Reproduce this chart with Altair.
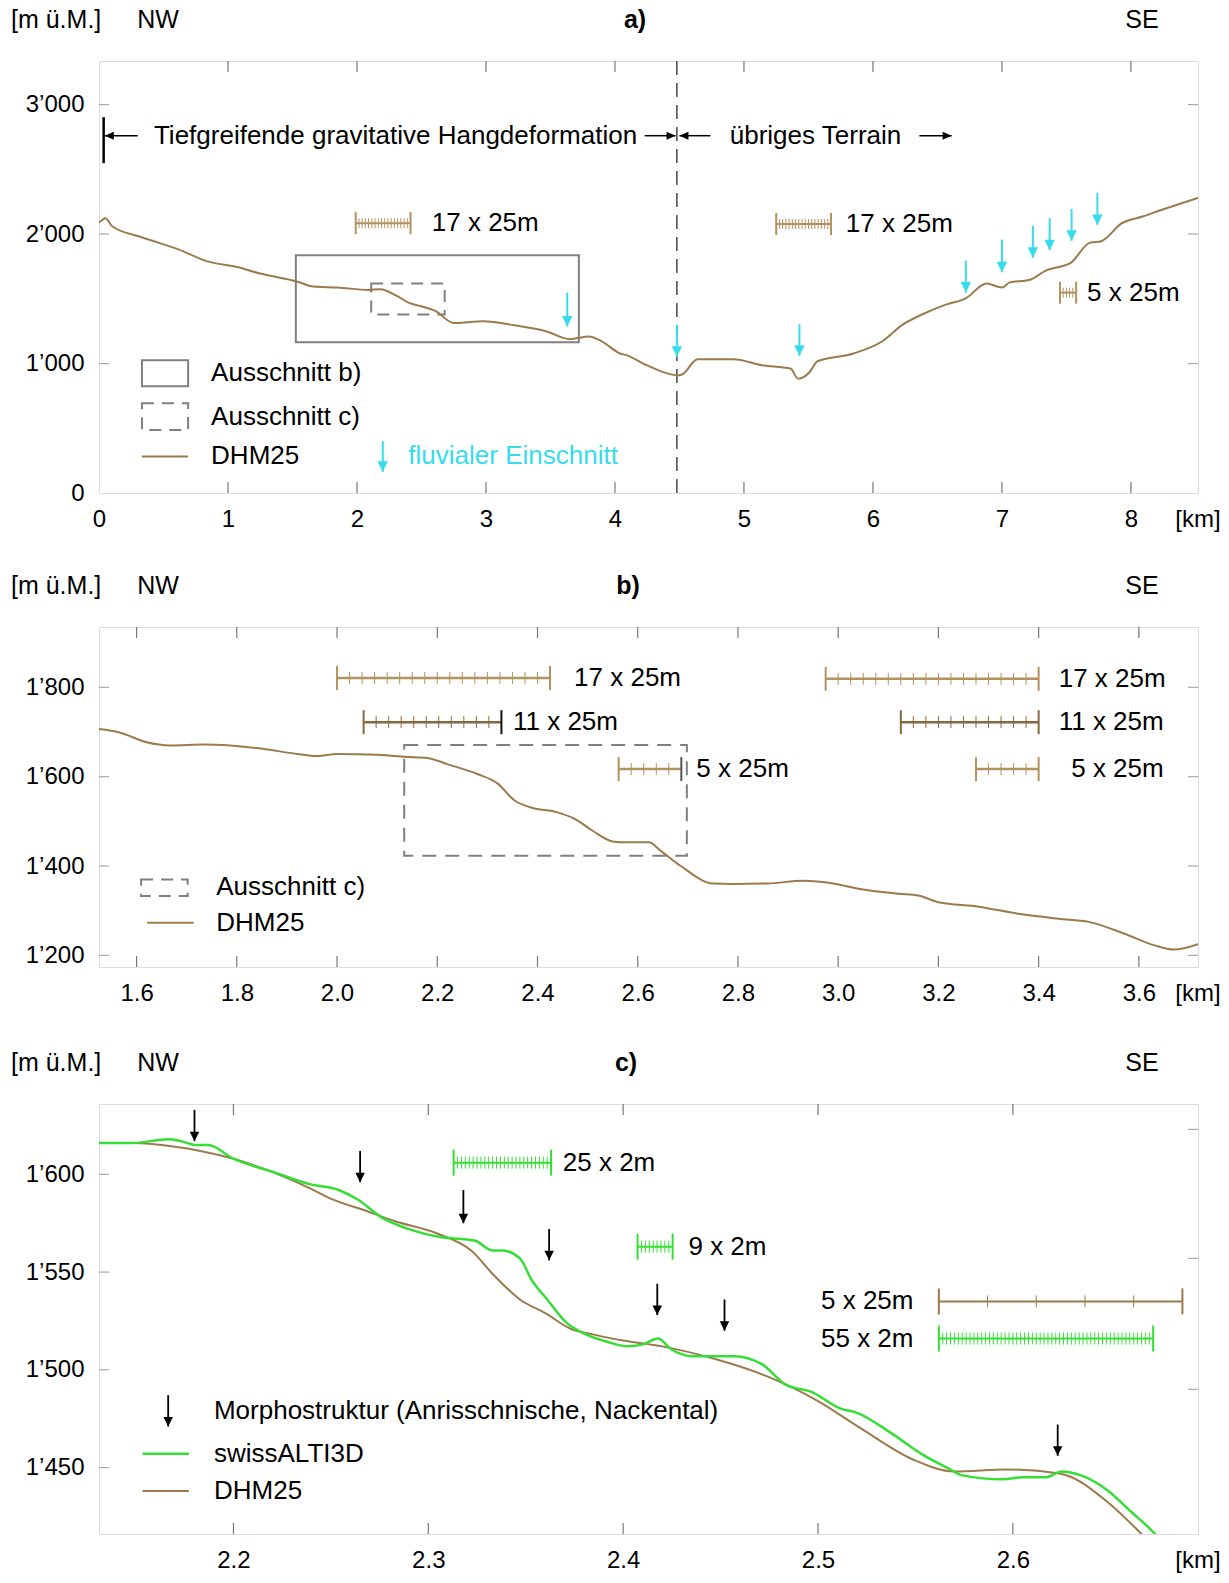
import altair as alt
import pandas as pd

FONT = "Liberation Sans"
BROWN = "#9b7a4d"
TAN = "#b3925f"
DARK = "#86673f"
CYAN = "#36dcec"
GREEN = "#35de35"
FRAME = "#5a5a5a"
W = 1099
HA, HB, HC = 432, 340, 430
FS = 26
LFS = 24

# ---------------- panel a data ----------------
A_DOM_X = [0, 8.52]
A_DOM_Y = [0, 3337]
A_X = [0.0, 0.01, 0.05, 0.1, 0.32, 0.62, 0.84, 1.08, 1.24, 1.54, 1.66, 1.85, 2.09, 2.18, 2.31, 2.4,
       2.49, 2.61, 2.75, 2.98, 3.22, 3.47, 3.65, 3.8, 3.9, 4.04, 4.09, 4.22, 4.5, 4.53, 4.64, 4.92,
       5.14, 5.36, 5.42, 5.51, 5.57, 5.85, 6.07, 6.23, 6.38, 6.57, 6.72, 6.88, 7.0, 7.06, 7.21, 7.34,
       7.53, 7.68, 7.77, 7.93, 8.09, 8.24, 8.52]
A_Y = [2090, 2097, 2123, 2063, 1979, 1880, 1789, 1744, 1697, 1632, 1595, 1587, 1569, 1574, 1522, 1470,
       1444, 1405, 1313, 1326, 1295, 1248, 1188, 1209, 1170, 1078, 1065, 1000, 909, 922, 1034, 1034,
       987, 961, 883, 935, 1018, 1078, 1170, 1300, 1379, 1457, 1504, 1619, 1587, 1627, 1645, 1718,
       1775, 1932, 1945, 2084, 2136, 2188, 2280]
A_XTICKS = [0, 1, 2, 3, 4, 5, 6, 7, 8]
A_YTICKS = [0, 1000, 2000, 3000]
A_FLUV_X = [3.63, 4.48, 5.43, 6.72, 7.0, 7.24, 7.37, 7.54, 7.74, 2.2]
A_FLUV_TOP = [1548, 1300, 1305, 1796, 1958, 2063, 2123, 2193, 2319, 400]
A_FLUV_TIP = [1287, 1052, 1060, 1548, 1705, 1817, 1875, 1948, 2071, 164]
A_HARROW_TAIL = [0.30, 4.23, 4.74, 6.36]
A_HARROW_TIP = [0.045, 4.47, 4.50, 6.61]
A_HARROW_Y = 2760
A_BOUNDARY = 4.48
A_BAR_BLACK = [0.036, 2548, 2903]
A_BOX_B = [1.526, 3.72, 1164, 1836]
A_BOX_C = [2.11, 2.68, 1379, 1619]
A_BARS = [(1.99, 17, 0.025, 2084), (5.25, 17, 0.025, 2078), (7.45, 5, 0.025, 1548)]
A_TEXTS = [("Tiefgreifende gravitative Hangdeformation", 0.426, 2760),
           ("übriges Terrain", 4.89, 2760),
           ("17 x 25m", 2.58, 2084), ("17 x 25m", 5.79, 2078), ("5 x 25m", 7.66, 1548),
           ("Ausschnitt b)", 0.869, 925), ("Ausschnitt c)", 0.869, 590), ("DHM25", 0.869, 282)]
A_LEG_BOX_B = [0.333, 0.691, 825, 1026]
A_LEG_BOX_C = [0.333, 0.691, 486, 694]
A_LEG_LINE = [0.333, 0.691, 282]
A_LEG_FLUV_TEXT = ("fluvialer Einschnitt", 2.398, 282)

# ---------------- panel b data ----------------
B_DOM_X = [1.525, 3.718]
B_DOM_Y = [1174, 1935]
B_X = [1.523, 1.566, 1.62, 1.667, 1.737, 1.84, 1.92, 1.96, 2.0, 2.08, 2.16, 2.18, 2.22, 2.28, 2.32,
       2.355, 2.387, 2.44, 2.475, 2.51, 2.55, 2.574, 2.622, 2.646, 2.686, 2.75, 2.79, 2.86, 2.93,
       2.99, 3.04, 3.12, 3.16, 3.2, 3.28, 3.36, 3.44, 3.5, 3.57, 3.63, 3.67, 3.718]
B_Y = [1707, 1699, 1677, 1670, 1672, 1664, 1651, 1646, 1651, 1649, 1643, 1642, 1628, 1606, 1585,
       1546, 1531, 1520, 1505, 1479, 1455, 1453, 1453, 1434, 1400, 1361, 1360, 1361, 1367,
       1361, 1349, 1338, 1334, 1319, 1309, 1293, 1282, 1275, 1249, 1223, 1213, 1225]
B_XTICKS = [1.6, 1.8, 2.0, 2.2, 2.4, 2.6, 2.8, 3.0, 3.2, 3.4, 3.6]
B_YTICKS = [1200, 1400, 1600, 1800]
B_BOX_C = [2.134, 2.698, 1423, 1671]
# x0, n, unit, y, colour, right-cap colour
B_BARS = [(2.0, 17, 0.025, 1821, TAN, TAN), (2.053, 11, 0.025, 1722, DARK, "#111111"),
          (2.562, 5, 0.025, 1617, TAN, "#555555"), (2.975, 17, 0.025, 1819, TAN, TAN),
          (3.125, 11, 0.025, 1722, DARK, DARK), (3.275, 5, 0.025, 1617, TAN, TAN)]
B_TEXTS = [("17 x 25m", 2.473, 1821), ("11 x 25m", 2.351, 1722), ("5 x 25m", 2.717, 1617),
           ("17 x 25m", 3.44, 1819), ("11 x 25m", 3.44, 1722), ("5 x 25m", 3.465, 1617),
           ("Ausschnitt c)", 1.759, 1352), ("DHM25", 1.759, 1273)]
B_LEG_BOX_C = [1.609, 1.702, 1333, 1370]
B_LEG_LINE = [1.621, 1.714, 1273]

# ---------------- panel c data ----------------
C_DOM_X = [2.131, 2.695]
C_DOM_Y = [1416, 1636]
C_DX = [2.131, 2.148, 2.171, 2.183, 2.2, 2.223, 2.239, 2.249, 2.269, 2.283, 2.304, 2.322, 2.334,
        2.347, 2.36, 2.373, 2.385, 2.4, 2.42, 2.449, 2.473, 2.5, 2.522, 2.549, 2.57, 2.597, 2.624,
        2.649, 2.665, 2.672]
C_DY = [1616, 1616, 1614, 1612, 1608, 1600, 1593, 1588, 1581, 1576, 1570, 1561, 1548, 1536, 1529,
        1521, 1518, 1515, 1512, 1505, 1497, 1484, 1470, 1454, 1448, 1449, 1447, 1432, 1417, 1410]
C_SX = [2.131, 2.148, 2.167, 2.173, 2.181, 2.187, 2.2, 2.221, 2.239, 2.254, 2.264, 2.276, 2.29,
        2.306, 2.316, 2.324, 2.333, 2.338, 2.347, 2.353, 2.361, 2.371, 2.379, 2.393, 2.402, 2.41,
        2.418, 2.424, 2.435, 2.449, 2.457, 2.471, 2.484, 2.496, 2.512, 2.52, 2.537, 2.553, 2.568,
        2.574, 2.595, 2.605, 2.617, 2.625, 2.635, 2.649, 2.66, 2.673, 2.68]
C_SY = [1616, 1616, 1618, 1617, 1615, 1615, 1608, 1601, 1595, 1592, 1587, 1578, 1572, 1568, 1567,
        1566, 1561, 1561, 1557, 1546, 1536, 1524, 1519, 1514, 1512, 1513, 1516, 1511, 1507, 1507,
        1507, 1503, 1492, 1489, 1480, 1478, 1468, 1457, 1449, 1446, 1444, 1445, 1445, 1448, 1446,
        1438, 1428, 1416, 1408]
C_XTICKS = [2.2, 2.3, 2.4, 2.5, 2.6]
C_YTICKS = [1450, 1500, 1550, 1600]
C_YTICKS_R = [1490, 1557, 1623]
C_MORPH_X = [2.18, 2.265, 2.318, 2.362, 2.4175, 2.452, 2.623, 2.1665]
C_MORPH_TOP = [1633, 1612, 1592, 1572, 1544, 1536, 1472, 1487]
C_MORPH_TIP = [1617, 1596, 1575, 1556, 1528, 1520, 1456, 1471]
C_BARS = [(2.313, 25, 0.002, 1606, GREEN, GREEN), (2.4074, 9, 0.002, 1563, GREEN, GREEN),
          (2.562, 5, 0.025, 1535, BROWN, BROWN), (2.562, 55, 0.002, 1516, GREEN, GREEN)]
C_TEXTS_L = [("25 x 2m", 2.369, 1606), ("9 x 2m", 2.4335, 1563),
             ("Morphostruktur (Anrisschnische, Nackental)", 2.19, 1479),
             ("swissALTI3D", 2.19, 1457), ("DHM25", 2.19, 1438)]
C_TEXTS_R = [("5 x 25m", 2.549, 1535), ("55 x 2m", 2.549, 1516)]
C_LEG_GREEN = [2.1533, 2.1771, 1457]
C_LEG_BROWN = [2.1533, 2.1771, 1438]

APOS = "replace(format(datum.value, ','), ',', '\u2019')"

DOWN = "M-0.5,-1L0.5,-1L0,0Z"
RIGHT = "M-1,-0.45L0,0L-1,0.45Z"
LEFT = "M1,-0.45L0,0L1,0.45Z"


def encoders(xdom, ydom, xvals, xfmt, yvals, H):
    sx = alt.Scale(domain=xdom, nice=False, zero=False)
    sy = alt.Scale(domain=ydom, nice=False, zero=False)
    xaxis = alt.Axis(values=xvals, format=xfmt, ticks=False, domain=False, grid=False,
                     labelFont=FONT, labelFontSize=LFS, labelColor="black", labelPadding=14,
                     labelFlush=False, labelOverlap=False, title=None)
    yaxis = alt.Axis(values=yvals, labelExpr=APOS, ticks=False, domain=False, grid=False,
                     labelFont=FONT, labelFontSize=LFS, labelColor="black", labelPadding=15,
                     labelFlush=False, labelOverlap=False, title=None, minExtent=90, maxExtent=90)

    def X(f="x"):
        return alt.X(f"{f}:Q", scale=sx, axis=xaxis, title=None)

    def Y(f="y"):
        return alt.Y(f"{f}:Q", scale=sy, axis=yaxis, title=None)
    return X, Y


def frame_ticks(X, Y, H, xt, ytl, ytr):
    dx = pd.DataFrame({"x": xt})
    layers = [
        alt.Chart(dx).mark_rule(color="#777777", strokeWidth=1.2).encode(
            x=X(), y=alt.value(H), y2=alt.value(H - 11)),
        alt.Chart(dx).mark_rule(color="#777777", strokeWidth=1.2).encode(
            x=X(), y=alt.value(0), y2=alt.value(11)),
        alt.Chart(pd.DataFrame({"y": ytl})).mark_rule(color="#aaaaaa", strokeWidth=1.2).encode(
            y=Y(), x=alt.value(0), x2=alt.value(10)),
        alt.Chart(pd.DataFrame({"y": ytr})).mark_rule(color="#aaaaaa", strokeWidth=1.2).encode(
            y=Y(), x=alt.value(W - 10), x2=alt.value(W)),
    ]
    return layers


def header(letter, letter_px, H):
    t1 = alt.Chart(pd.DataFrame({"t": ["[m ü.M.]"]})).mark_text(
        font=FONT, fontSize=25, align="left", baseline="middle", color="black").encode(
        x=alt.value(-88), y=alt.value(-41), text="t:N")
    t2 = alt.Chart(pd.DataFrame({"px": [59, W - 56], "t": ["NW", "SE"]})).mark_text(
        font=FONT, fontSize=25, align="center", baseline="middle", color="black").encode(
        x=alt.X("px:Q", scale=None), y=alt.value(-41), text="t:N")
    t3 = alt.Chart(pd.DataFrame({"t": [letter]})).mark_text(
        font=FONT, fontSize=25, fontWeight="bold", align="center", baseline="middle",
        color="black").encode(x=alt.value(letter_px), y=alt.value(-41), text="t:N")
    t4 = alt.Chart(pd.DataFrame({"t": ["[km]"]})).mark_text(
        font=FONT, fontSize=LFS, align="center", baseline="middle", color="black").encode(
        x=alt.value(W), y=alt.value(H + 27), text="t:N")
    return [t1, t2, t3, t4]


def profile(X, Y, xs, ys, color, width):
    return alt.Chart(pd.DataFrame({"x": xs, "y": ys})).mark_line(
        color=color, strokeWidth=width, clip=True, interpolate="monotone").encode(x=X(), y=Y())


def texts(X, Y, items, color="black", align="left", size=FS):
    df = pd.DataFrame({"t": [i[0] for i in items], "x": [i[1] for i in items],
                       "y": [i[2] for i in items]})
    return alt.Chart(df).mark_text(font=FONT, fontSize=size, align=align, baseline="middle",
                                   color=color).encode(x=X(), y=Y(), text="t:N")


def box(X, Y, b, dash=None, color="#808080", width=2):
    df = pd.DataFrame({"x": [b[0]], "x2": [b[1]], "y": [b[2]], "y2": [b[3]]})
    kw = dict(fillOpacity=0, stroke=color, strokeWidth=width)
    if dash:
        kw["strokeDash"] = dash
    return alt.Chart(df).mark_rect(**kw).encode(x=X(), x2="x2:Q", y=Y(), y2="y2:Q")


def hline(X, Y, seg, color, width):
    df = pd.DataFrame({"x": [seg[0]], "x2": [seg[1]], "y": [seg[2]]})
    return alt.Chart(df).mark_rule(color=color, strokeWidth=width).encode(x=X(), x2="x2:Q", y=Y())


def down_arrows(X, Y, xs, tops, tips, color, width, size):
    df = pd.DataFrame({"x": xs, "y": tops, "y2": tips})
    shaft = alt.Chart(df).mark_rule(color=color, strokeWidth=width).encode(x=X(), y=Y(), y2="y2:Q")
    hd = pd.DataFrame({"x": xs, "y": tips})
    head = alt.Chart(hd).mark_point(shape=DOWN, size=size, filled=True, color=color,
                                    opacity=1, strokeWidth=0).encode(x=X(), y=Y())
    return [shaft, head]


def scalebars(X, Y, bars, cap_half, tick_half, lw):
    lines, caps, ticks = [], [], []
    for x0, n, unit, y, col, rcol in bars:
        x1 = x0 + n * unit
        lines.append({"x": x0, "x2": x1, "y": y, "c": col})
        caps.append({"x": x0, "y": y, "c": col})
        caps.append({"x": x1, "y": y, "c": rcol})
        for i in range(1, n):
            ticks.append({"x": x0 + i * unit, "y": y, "c": col})
    C = alt.Color("c:N", scale=None)
    return [
        alt.Chart(pd.DataFrame(lines)).mark_rule(strokeWidth=lw).encode(
            x=X(), x2="x2:Q", y=Y(), color=C),
        alt.Chart(pd.DataFrame(ticks)).mark_rule(strokeWidth=1, yOffset=-tick_half,
                                                 y2Offset=tick_half).encode(
            x=X(), y=Y(), y2="y:Q", color=C),
        alt.Chart(pd.DataFrame(caps)).mark_rule(strokeWidth=2, yOffset=-cap_half,
                                                y2Offset=cap_half).encode(
            x=X(), y=Y(), y2="y:Q", color=C),
    ]


# ================= panel a =================
X, Y = encoders(A_DOM_X, A_DOM_Y, A_XTICKS, "d", A_YTICKS, HA)
la = []
la += frame_ticks(X, Y, HA, A_XTICKS[1:], A_YTICKS[1:], A_YTICKS[1:])
la.append(alt.Chart(pd.DataFrame({"x": [A_BOUNDARY]})).mark_rule(
    color="#444444", strokeWidth=1.5, strokeDash=[14, 8]).encode(
    x=X(), y=alt.value(0), y2=alt.value(HA)))
la.append(box(X, Y, A_BOX_B))
la.append(box(X, Y, A_BOX_C, dash=[12, 8]))
la.append(box(X, Y, A_LEG_BOX_B))
la.append(box(X, Y, A_LEG_BOX_C, dash=[12, 8]))
la.append(hline(X, Y, A_LEG_LINE, BROWN, 2))
la.append(profile(X, Y, A_X, A_Y, BROWN, 2))
la += scalebars(X, Y, [(b[0], b[1], b[2], b[3], TAN, TAN) for b in A_BARS], 11, 5, 2)
la.append(texts(X, Y, A_TEXTS))
la.append(texts(X, Y, [A_LEG_FLUV_TEXT], color=CYAN))
la += down_arrows(X, Y, A_FLUV_X, A_FLUV_TOP, A_FLUV_TIP, CYAN, 2, 441)
# black boundary bar
la.append(alt.Chart(pd.DataFrame({"x": [A_BAR_BLACK[0]], "y": [A_BAR_BLACK[1]],
                                  "y2": [A_BAR_BLACK[2]]})).mark_rule(
    color="black", strokeWidth=2.5).encode(x=X(), y=Y(), y2="y2:Q"))
harr = pd.DataFrame({"x": A_HARROW_TAIL, "x2": A_HARROW_TIP, "y": [A_HARROW_Y] * 4})
la.append(alt.Chart(harr).mark_rule(color="black", strokeWidth=1.5).encode(
    x=X(), x2="x2:Q", y=Y()))
rt = [i for i in range(4) if A_HARROW_TIP[i] > A_HARROW_TAIL[i]]
lt = [i for i in range(4) if A_HARROW_TIP[i] < A_HARROW_TAIL[i]]
la.append(alt.Chart(pd.DataFrame({"x": [A_HARROW_TIP[i] for i in rt],
                                  "y": [A_HARROW_Y] * len(rt)})).mark_point(
    shape=RIGHT, size=324, filled=True, color="black", opacity=1, strokeWidth=0).encode(
    x=X(), y=Y()))
la.append(alt.Chart(pd.DataFrame({"x": [A_HARROW_TIP[i] for i in lt],
                                  "y": [A_HARROW_Y] * len(lt)})).mark_point(
    shape=LEFT, size=324, filled=True, color="black", opacity=1, strokeWidth=0).encode(
    x=X(), y=Y()))
la += header("a)", 536, HA)
pa = alt.layer(*la).properties(width=W, height=HA)

# ================= panel b =================
X, Y = encoders(B_DOM_X, B_DOM_Y, B_XTICKS, ".1f", B_YTICKS, HB)
lb = []
lb += frame_ticks(X, Y, HB, B_XTICKS, B_YTICKS, B_YTICKS)
lb.append(box(X, Y, B_BOX_C, dash=[14, 9]))
lb.append(box(X, Y, B_LEG_BOX_C, dash=[12, 8]))
lb.append(hline(X, Y, B_LEG_LINE, BROWN, 2))
lb.append(profile(X, Y, B_X, B_Y, BROWN, 2))
lb += scalebars(X, Y, B_BARS, 12, 6, 2.5)
lb.append(texts(X, Y, B_TEXTS))
lb += header("b)", 529, HB)
pb = alt.layer(*lb).properties(width=W, height=HB)

# ================= panel c =================
X, Y = encoders(C_DOM_X, C_DOM_Y, C_XTICKS, ".1f", C_YTICKS, HC)
lc = []
lc += frame_ticks(X, Y, HC, C_XTICKS, C_YTICKS, C_YTICKS_R)
lc.append(profile(X, Y, C_DX, C_DY, BROWN, 2))
lc.append(profile(X, Y, C_SX, C_SY, GREEN, 2.5))
lc.append(hline(X, Y, C_LEG_GREEN, GREEN, 2.5))
lc.append(hline(X, Y, C_LEG_BROWN, BROWN, 2))
lc += scalebars(X, Y, C_BARS, 13, 6, 2)
lc.append(texts(X, Y, C_TEXTS_L))
lc.append(texts(X, Y, C_TEXTS_R, align="right"))
lc += down_arrows(X, Y, C_MORPH_X, C_MORPH_TOP, C_MORPH_TIP, "black", 1.8, 361)
lc += header("c)", 527, HC)
pc = alt.layer(*lc).properties(width=W, height=HC)

chart = alt.vconcat(pa, alt.vconcat(pb, pc, spacing=43), spacing=40).properties(
    padding={"left": 8, "top": 7, "right": 5, "bottom": 5}
).configure_view(stroke=FRAME, strokeWidth=1.5).configure(background="white")

chart.save("out.html", embed_options={"renderer": "svg", "actions": False})
